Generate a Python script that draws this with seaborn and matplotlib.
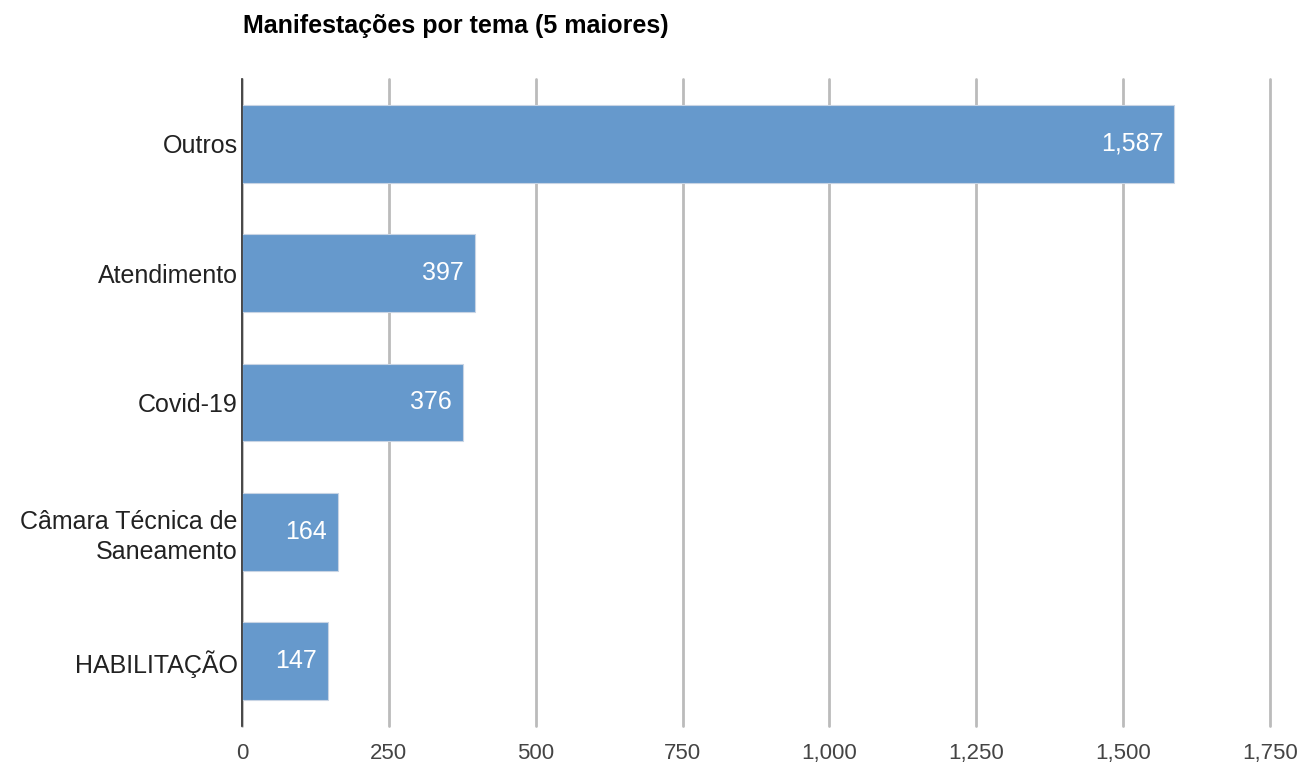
import matplotlib
matplotlib.use("Agg")
import matplotlib.pyplot as plt
import seaborn as sns
import pandas as pd
from matplotlib.ticker import FuncFormatter

# dados
temas = ["Outros", "Atendimento", "Covid-19", "Câmara Técnica de\nSaneamento", "HABILITAÇÃO"]
manifestacoes = [1587, 397, 376, 164, 147]
xticks = [0, 250, 500, 750, 1000, 1250, 1500, 1750]

df = pd.DataFrame({"tema": temas, "valor": manifestacoes})

sns.set_theme(style="white")
plt.rcParams["font.family"] = ["Liberation Sans", "DejaVu Sans"]

fig = plt.figure(figsize=(13.06, 7.68), dpi=100)
ax = fig.add_axes([242 / 1306, 1 - 726 / 768, 1028 / 1306, 647 / 768])

sns.barplot(data=df, x="valor", y="tema", orient="h", color="#6699cc",
            saturation=1, width=0.6, edgecolor="#c8d4e4", linewidth=0.8,
            ax=ax, zorder=3)

ax.set_xlim(0, 1750)
ax.set_xticks(xticks)
ax.xaxis.set_major_formatter(FuncFormatter(lambda v, p: f"{int(v):,}"))
ax.grid(axis="x", color="#bbbbbb", linewidth=2, zorder=0)
for gl in ax.get_xgridlines():
    gl.set_clip_on(False)
ax.set_axisbelow(True)
for s in ["top", "right", "bottom"]:
    ax.spines[s].set_visible(False)
ax.spines["left"].set_color("#333333")
ax.spines["left"].set_linewidth(1.2)
ax.spines["left"].set_zorder(5)
ax.tick_params(axis="both", length=0, colors="#444444")
ax.tick_params(axis="x", pad=12, labelsize=16)
ax.tick_params(axis="y", pad=3, labelsize=18, labelcolor="#222222")
for lbl in ax.get_yticklabels():
    lbl.set_multialignment("right")
    lbl.set_linespacing(1.3)
ax.set_xlabel("")
ax.set_ylabel("")

# rótulos dentro das barras
for cont in ax.containers:
    ax.bar_label(cont, labels=[f"{v:,}" for v in manifestacoes], padding=-8,
                 label_type="edge", color="white", fontsize=18, zorder=6)
for t in ax.texts:
    t.set_ha("right")

fig.text(243 / 1306, 1 - 26 / 768, "Manifestações por tema (5 maiores)",
         fontsize=18, fontweight="bold", ha="left", va="center", color="#000000")

fig.savefig("out.png", dpi=100)
